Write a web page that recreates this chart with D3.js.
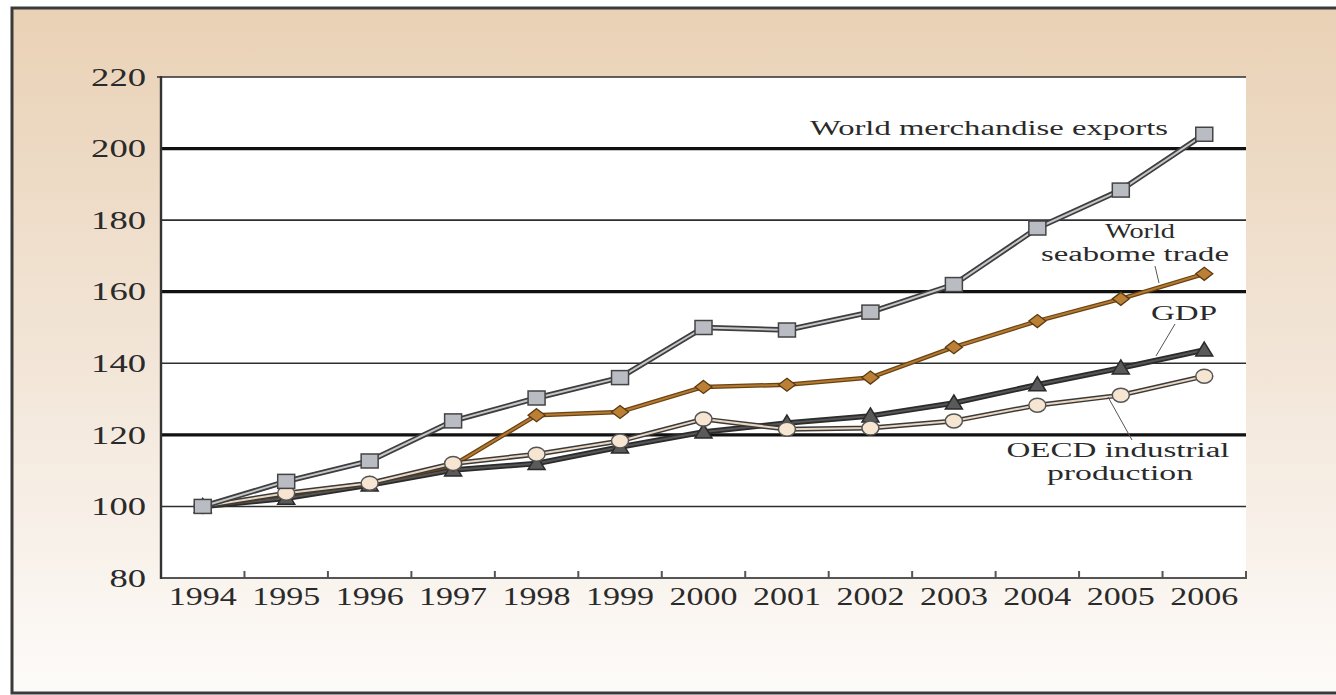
<!DOCTYPE html>
<html>
<head>
<meta charset="utf-8">
<script src="https://cdn.jsdelivr.net/npm/d3@7"></script>
<style>
  html, body { margin: 0; padding: 0; background: #ffffff; }
  svg { display: block; }
  text { font-family: "Liberation Serif", "DejaVu Serif", serif; fill: #2a2a2a; }
</style>
</head>
<body>
<script>
// ---- data ----
const years = ["1994","1995","1996","1997","1998","1999","2000","2001","2002","2003","2004","2005","2006"];
const merchandiseExports = [100, 107, 112.7, 123.9, 130.3, 136, 150, 149.3, 154.3, 162, 177.8, 188.4, 204];
const seaborneTrade      = [100, 103.5, 106.5, 111.5, 125.5, 126.4, 133.4, 134, 136, 144.5, 151.8, 158, 165];
const gdp                = [100, 102.3, 106, 110.2, 112, 116.6, 120.8, 123.3, 125.3, 128.9, 134, 138.7, 143.7];
const oecdProduction     = [100, 103.7, 106.5, 112, 114.6, 118.3, 124.4, 121.6, 121.9, 123.9, 128.3, 131.1, 136.4];
const yTicks = [80, 100, 120, 140, 160, 180, 200, 220];
const thickGrid = [120, 160, 200];
const thinGrid = [100, 140, 180, 220];

const W = 1336, H = 695;
const svg = d3.select("body").append("svg").attr("width", W).attr("height", H);

// background gradient
const defs = svg.append("defs");
const grad = defs.append("linearGradient").attr("id", "bg").attr("x1", 0).attr("y1", 0).attr("x2", 0).attr("y2", 1);
grad.append("stop").attr("offset", "0%").attr("stop-color", "#e9d1b5");
grad.append("stop").attr("offset", "55%").attr("stop-color", "#f3e7da");
grad.append("stop").attr("offset", "100%").attr("stop-color", "#fdfbf9");

svg.append("rect").attr("x", 12).attr("y", 8).attr("width", W + 20).attr("height", 685)
  .attr("fill", "url(#bg)").attr("stroke", "#3a3a3a").attr("stroke-width", 3);

const L = 161, R = 1246, T = 77, B = 578;
const x = d3.scaleBand().domain(years).range([L, R]).padding(0);
const y = d3.scaleLinear().domain([80, 220]).range([B, T]);
const cx = d => x(d) + x.bandwidth() / 2;

// plot area
svg.append("rect").attr("x", L).attr("y", T).attr("width", R - L).attr("height", B - T).attr("fill", "#ffffff");

// grid lines
svg.append("g").selectAll("line").data(thinGrid).join("line")
  .attr("x1", d => d === 220 ? L - 4 : L).attr("x2", R)
  .attr("y1", d => y(d)).attr("y2", d => y(d))
  .attr("stroke", "#2e2e2e").attr("stroke-width", 1.6);
svg.append("g").selectAll("line").data(thickGrid).join("line")
  .attr("x1", L).attr("x2", R)
  .attr("y1", d => y(d)).attr("y2", d => y(d))
  .attr("stroke", "#111").attr("stroke-width", 3.2);

// x axis (ticks pointing inward)
const xAxis = d3.axisBottom(x).tickSize(0).tickPadding(0);
const gx = svg.append("g").attr("transform", `translate(0,${B})`).call(xAxis);
gx.select(".domain").remove();
gx.selectAll("text")
  .attr("y", 27).attr("dy", 0)
  .attr("font-size", 25).attr("fill", "#2a2a2a")
  .attr("textLength", 68).attr("lengthAdjust", "spacingAndGlyphs")
  .style("font-family", "'Liberation Serif', serif");
svg.append("line").attr("x1", L).attr("x2", R + 1).attr("y1", B).attr("y2", B)
  .attr("stroke", "#555").attr("stroke-width", 2.2);
const boundaries = years.slice(1).map(d => x(d)).concat([R]);
svg.append("g").selectAll("line").data(boundaries).join("line")
  .attr("x1", d => d).attr("x2", d => d).attr("y1", B).attr("y2", B - 7)
  .attr("stroke", "#555").attr("stroke-width", 2);

// y axis
const yAxis = d3.axisLeft(y).tickValues(yTicks).tickSize(0).tickPadding(15);
const gy = svg.append("g").attr("transform", `translate(${L},0)`).call(yAxis);
gy.select(".domain").remove();
gy.selectAll("text")
  .attr("font-size", 25).attr("fill", "#2a2a2a")
  .attr("dy", "0.33em")
  .attr("textLength", d => String(d).length * 18.3).attr("lengthAdjust", "spacingAndGlyphs")
  .style("font-family", "'Liberation Serif', serif");
svg.append("line").attr("x1", L).attr("x2", L).attr("y1", T - 1).attr("y2", B + 1)
  .attr("stroke", "#333").attr("stroke-width", 2.4);

// series
const line = d3.line().x((d, i) => cx(years[i])).y(d => y(d));

function drawSeries(values, outer, outerW, inner, innerW) {
  const g = svg.append("g");
  g.append("path").attr("d", line(values)).attr("fill", "none")
    .attr("stroke", outer).attr("stroke-width", outerW).attr("stroke-linejoin", "round");
  g.append("path").attr("d", line(values)).attr("fill", "none")
    .attr("stroke", inner).attr("stroke-width", innerW).attr("stroke-linejoin", "round");
  return g;
}

// GDP - triangles
const gGdp = drawSeries(gdp, "#2b2b2b", 5.5, "#555", 2);
gGdp.selectAll("path.m").data(gdp).join("path").attr("class", "m")
  .attr("d", "M0,-8 L8.5,6 L-8.5,6 Z")
  .attr("transform", (d, i) => `translate(${cx(years[i])},${y(d)})`)
  .attr("fill", "#5a5a5a").attr("stroke", "#2a2a2a").attr("stroke-width", 1.5);

// Seaborne - diamonds
const gSea = drawSeries(seaborneTrade, "#6a4314", 4.5, "#b57a32", 2);
gSea.selectAll("path.m").data(seaborneTrade).join("path").attr("class", "m")
  .attr("d", "M0,-6.5 L8.5,0 L0,6.5 L-8.5,0 Z")
  .attr("transform", (d, i) => `translate(${cx(years[i])},${y(d)})`)
  .attr("fill", "#bb7f35").attr("stroke", "#5a3a12").attr("stroke-width", 1.3);

// OECD - circles
const gOecd = drawSeries(oecdProduction, "#3a3a3a", 5, "#ead6c0", 2);
gOecd.selectAll("ellipse").data(oecdProduction).join("ellipse")
  .attr("cx", (d, i) => cx(years[i])).attr("cy", d => y(d))
  .attr("rx", 8.5).attr("ry", 7)
  .attr("fill", "#f6e5d0").attr("stroke", "#555").attr("stroke-width", 1.5);

// Exports - squares
const gExp = drawSeries(merchandiseExports, "#3e3e3e", 5.5, "#c4c6ca", 2);
gExp.selectAll("rect").data(merchandiseExports).join("rect")
  .attr("x", (d, i) => cx(years[i]) - 8.5).attr("y", d => y(d) - 7)
  .attr("width", 17).attr("height", 14)
  .attr("fill", "#b9bcc3").attr("stroke", "#444").attr("stroke-width", 1.5);

// annotations
const labels = [
  { t: "World merchandise exports", x: 989, y: 135, w: 358, fs: 22 },
  { t: "World", x: 1140, y: 238, w: 70, fs: 20 },
  { t: "seabome trade", x: 1135, y: 261, w: 188, fs: 20 },
  { t: "GDP", x: 1184, y: 320, w: 66, fs: 22 },
  { t: "OECD industrial", x: 1118, y: 457, w: 223, fs: 20 },
  { t: "production", x: 1120, y: 480, w: 146, fs: 20 }
];
svg.append("g").selectAll("text").data(labels).join("text")
  .attr("x", d => d.x).attr("y", d => d.y)
  .attr("text-anchor", "middle").attr("font-size", d => d.fs)
  .attr("textLength", d => d.w).attr("lengthAdjust", "spacingAndGlyphs")
  .attr("fill", "#333")
  .text(d => d.t);

const leaders = [
  { x1: 1155, y1: 266, x2: 1159, y2: 283 },
  { x1: 1175, y1: 324, x2: 1156, y2: 356 },
  { x1: 1108, y1: 397, x2: 1132, y2: 440 }
];
svg.append("g").selectAll("line").data(leaders).join("line")
  .attr("x1", d => d.x1).attr("y1", d => d.y1).attr("x2", d => d.x2).attr("y2", d => d.y2)
  .attr("stroke", "#555").attr("stroke-width", 1);
</script>
</body>
</html>
